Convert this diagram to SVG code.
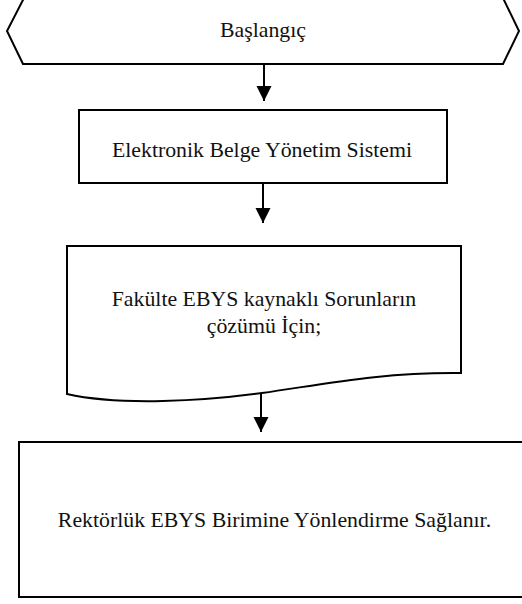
<svg xmlns="http://www.w3.org/2000/svg" width="522" height="604" viewBox="0 0 522 604">
<style>
.s{fill:#fff;stroke:#000;stroke-width:2}
.t{font-family:"Liberation Serif","Times New Roman",serif;font-size:21.8px;fill:#111;text-anchor:middle}
.c{stroke:#000;stroke-width:2;fill:none}
</style>
<defs>
<marker id="ah" markerUnits="userSpaceOnUse" markerWidth="16" markerHeight="16" viewBox="0 0 16 16" refX="15" refY="8" orient="auto">
<path d="M0,0.5 L15,8 L0,15.5 Z" fill="#000"/>
</marker>
</defs>
<g id="connectors">
<line class="c" x1="264" y1="64" x2="264" y2="101" marker-end="url(#ah)"/>
<line class="c" x1="263" y1="183" x2="263" y2="223" marker-end="url(#ah)"/>
<line class="c" x1="261" y1="393" x2="261" y2="432" marker-end="url(#ah)"/>
</g>
<g id="start">
<polygon class="s" points="24,-2 503,-2 519,31 503,64 23,64 7,31"/>
<text class="t" x="263" y="37">Başlangıç</text>
</g>
<g id="ebys">
<rect class="s" x="79" y="110" width="368" height="73"/>
<text class="t" x="262" y="157">Elektronik Belge Yönetim Sistemi</text>
</g>
<g id="document">
<path class="s" d="M67,246 H461 V373 C380,372 320,385 262,393 S120,406 67,394 Z"/>
<text class="t" x="264" y="306">Fakülte EBYS kaynaklı Sorunların</text>
<text class="t" x="264" y="333">çözümü İçin;</text>
</g>
<g id="rektorluk">
<rect class="s" x="19" y="442" width="520" height="155"/>
<text class="t" x="274.5" y="527">Rektörlük EBYS Birimine Yönlendirme Sağlanır.</text>
</g>
</svg>
